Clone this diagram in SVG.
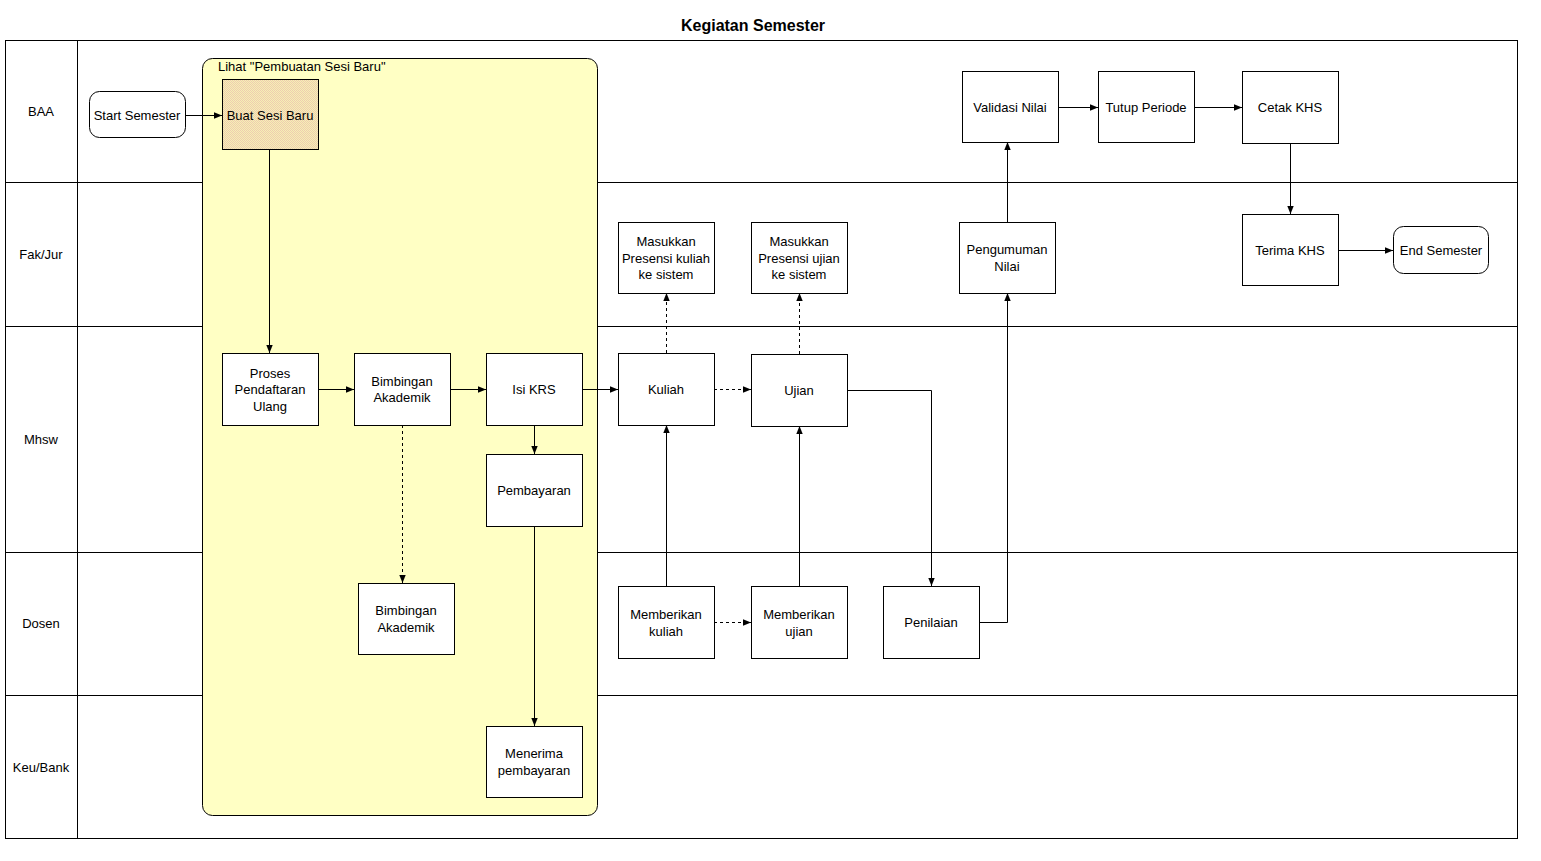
<svg xmlns="http://www.w3.org/2000/svg" width="1541" height="861" viewBox="0 0 1541 861">
<style>
text{font-family:"Liberation Sans",Arial,sans-serif;font-size:13px;fill:#000;text-anchor:middle}
.title{font-size:16px;font-weight:bold}
.lbl{text-anchor:start}
.box{fill:#fff;stroke:#000;stroke-width:1}
.lane{fill:none;stroke:#000;stroke-width:1}
.c{fill:none;stroke:#000;stroke-width:1;marker-end:url(#ah)}
.d{stroke-dasharray:3,3}
</style>
<defs>
<marker id="ah" viewBox="0 0 10 10" refX="10" refY="5" markerWidth="8" markerHeight="8" markerUnits="userSpaceOnUse" orient="auto">
<path d="M0,1 L10,5 L0,9 z" fill="#000"/>
</marker>
<pattern id="hatch" width="2" height="2" patternUnits="userSpaceOnUse">
<rect width="2" height="2" fill="#F6F0B4"/>
<rect width="1" height="1" fill="#EECCB0"/>
<rect x="1" y="1" width="1" height="1" fill="#EECCB0"/>
</pattern>
</defs>
<rect width="1541" height="861" fill="#fff"/>
<text class="title" x="753" y="31">Kegiatan Semester</text>
<g id="lanes">
<rect class="lane" x="5.5" y="40.5" width="1512" height="798"/>
<line class="lane" x1="77.5" y1="40" x2="77.5" y2="838"/>
<line class="lane" x1="5" y1="182.5" x2="1517" y2="182.5"/>
<line class="lane" x1="5" y1="326.5" x2="1517" y2="326.5"/>
<line class="lane" x1="5" y1="552.5" x2="1517" y2="552.5"/>
<line class="lane" x1="5" y1="695.5" x2="1517" y2="695.5"/>
<text x="41" y="116">BAA</text>
<text x="41" y="259">Fak/Jur</text>
<text x="41" y="444">Mhsw</text>
<text x="41" y="628">Dosen</text>
<text x="41" y="772">Keu/Bank</text>
</g>
<g id="group-sesi">
<rect x="202.5" y="58.5" width="395" height="757" rx="10" fill="#FFFFC4" stroke="#000"/>
<text class="lbl" x="218" y="71">Lihat "Pembuatan Sesi Baru"</text>
</g>
<g id="connectors">
<path class="c" d="M185,115.5 H222"/>
<path class="c" d="M269.5,149 V353"/>
<path class="c" d="M318,389.5 H354"/>
<path class="c" d="M450,389.5 H486"/>
<path class="c" d="M582,389.5 H618"/>
<path class="c" d="M534.5,425 V454"/>
<path class="c" d="M534.5,526 V726"/>
<path class="c d" d="M402.5,425 V583"/>
<path class="c d" d="M714,389.5 H751"/>
<path class="c d" d="M666.5,353 V293"/>
<path class="c d" d="M799.5,354 V293"/>
<path class="c" d="M666.5,586 V425"/>
<path class="c" d="M799.5,586 V426"/>
<path class="c d" d="M714,622.5 H751"/>
<path class="c" d="M847,390.5 H931.5 V586"/>
<path class="c" d="M979,622.5 H1007.5 V293"/>
<path class="c" d="M1007.5,222 V142"/>
<path class="c" d="M1058,107.5 H1098"/>
<path class="c" d="M1194,107.5 H1242"/>
<path class="c" d="M1290.5,143 V214"/>
<path class="c" d="M1338,250.5 H1393"/>
</g>
<g id="start-semester"><rect class="box" x="89.5" y="91.5" width="96" height="46" rx="10"/><text x="137" y="120">Start Semester</text></g>
<g id="buat-sesi-baru"><rect x="222.5" y="79.5" width="96" height="70" fill="url(#hatch)" stroke="#000"/><text x="270" y="120">Buat Sesi Baru</text></g>
<g id="proses-pendaftaran"><rect class="box" x="222.5" y="353.5" width="96" height="72"/><text x="270" y="378">Proses</text><text x="270" y="394">Pendaftaran</text><text x="270" y="411">Ulang</text></g>
<g id="bimbingan-mhsw"><rect class="box" x="354.5" y="353.5" width="96" height="72"/><text x="402" y="386">Bimbingan</text><text x="402" y="402">Akademik</text></g>
<g id="isi-krs"><rect class="box" x="486.5" y="353.5" width="96" height="72"/><text x="534" y="394">Isi KRS</text></g>
<g id="pembayaran"><rect class="box" x="486.5" y="454.5" width="96" height="72"/><text x="534" y="495">Pembayaran</text></g>
<g id="bimbingan-dosen"><rect class="box" x="358.5" y="583.5" width="96" height="71"/><text x="406" y="615">Bimbingan</text><text x="406" y="632">Akademik</text></g>
<g id="menerima-pembayaran"><rect class="box" x="486.5" y="726.5" width="96" height="71"/><text x="534" y="758">Menerima</text><text x="534" y="775">pembayaran</text></g>
<g id="kuliah"><rect class="box" x="618.5" y="353.5" width="96" height="72"/><text x="666" y="394">Kuliah</text></g>
<g id="ujian"><rect class="box" x="751.5" y="354.5" width="96" height="72"/><text x="799" y="395">Ujian</text></g>
<g id="presensi-kuliah"><rect class="box" x="618.5" y="222.5" width="96" height="71"/><text x="666" y="246">Masukkan</text><text x="666" y="263">Presensi kuliah</text><text x="666" y="279">ke sistem</text></g>
<g id="presensi-ujian"><rect class="box" x="751.5" y="222.5" width="96" height="71"/><text x="799" y="246">Masukkan</text><text x="799" y="263">Presensi ujian</text><text x="799" y="279">ke sistem</text></g>
<g id="memberikan-kuliah"><rect class="box" x="618.5" y="586.5" width="96" height="72"/><text x="666" y="619">Memberikan</text><text x="666" y="636">kuliah</text></g>
<g id="memberikan-ujian"><rect class="box" x="751.5" y="586.5" width="96" height="72"/><text x="799" y="619">Memberikan</text><text x="799" y="636">ujian</text></g>
<g id="penilaian"><rect class="box" x="883.5" y="586.5" width="96" height="72"/><text x="931" y="627">Penilaian</text></g>
<g id="pengumuman-nilai"><rect class="box" x="959.5" y="222.5" width="96" height="71"/><text x="1007" y="254">Pengumuman</text><text x="1007" y="271">Nilai</text></g>
<g id="validasi-nilai"><rect class="box" x="962.5" y="71.5" width="96" height="71"/><text x="1010" y="112">Validasi Nilai</text></g>
<g id="tutup-periode"><rect class="box" x="1098.5" y="71.5" width="96" height="71"/><text x="1146" y="112">Tutup Periode</text></g>
<g id="cetak-khs"><rect class="box" x="1242.5" y="71.5" width="96" height="72"/><text x="1290" y="112">Cetak KHS</text></g>
<g id="terima-khs"><rect class="box" x="1242.5" y="214.5" width="96" height="71"/><text x="1290" y="255">Terima KHS</text></g>
<g id="end-semester"><rect class="box" x="1393.5" y="226.5" width="95" height="47" rx="10"/><text x="1441" y="255">End Semester</text></g>
</svg>
